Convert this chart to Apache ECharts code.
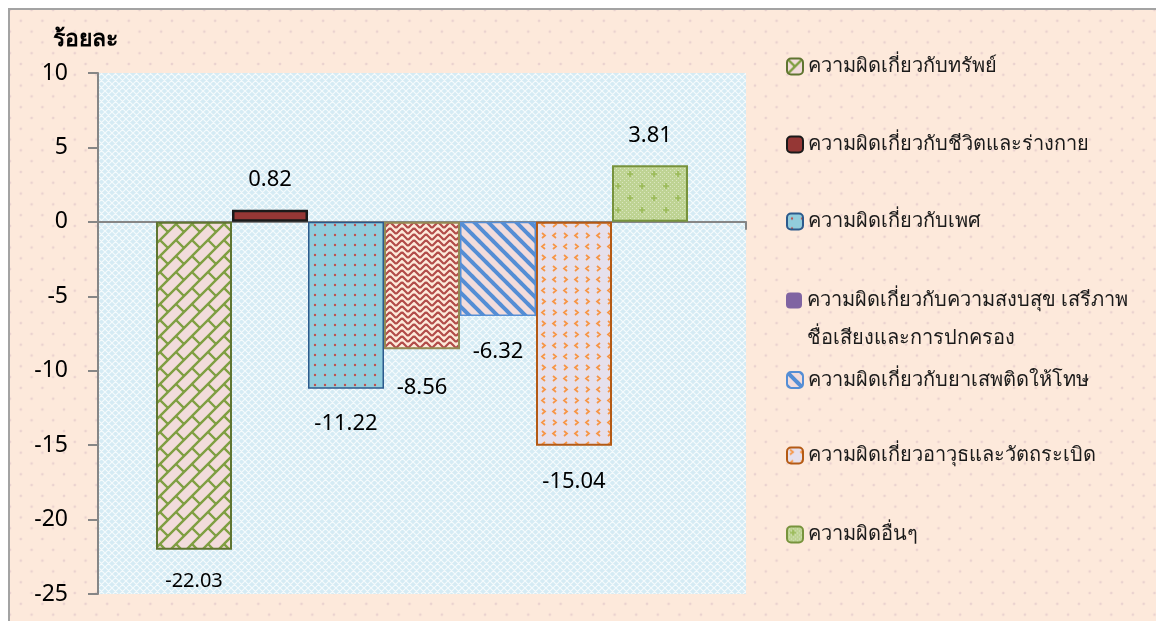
<!DOCTYPE html>
<html><head><meta charset="utf-8">
<script src="https://cdn.jsdelivr.net/npm/echarts@6/dist/echarts.min.js"></script>
<style>
html,body{margin:0;padding:0;width:1156px;height:621px;overflow:hidden;background:#fff;}
#frame{position:absolute;left:8px;top:8px;width:1170px;height:630px;border:2px solid #a3a3a3;background-color:#fde9db;
background-image:radial-gradient(circle, #ead2cf 1px, transparent 1.7px), radial-gradient(circle,#ead2cf 1px, transparent 1.7px);
background-size:21.6px 21.6px; background-position:0 0, 10.8px 10.8px;}
#chart{position:absolute;left:0;top:0;width:1156px;height:621px;}
</style></head>
<body><div id="frame"></div><div id="chart"></div>
<script>
// ---- data ----
const seriesNames = [
  'ความผิดเกี่ยวกับทรัพย์',
  'ความผิดเกี่ยวกับชีวิตและร่างกาย',
  'ความผิดเกี่ยวกับเพศ',
  'ความผิดเกี่ยวกับความสงบสุข เสรีภาพ\nชื่อเสียงและการปกครอง',
  'ความผิดเกี่ยวกับยาเสพติดให้โทษ',
  'ความผิดเกี่ยวอาวุธและวัตถระเบิด',
  'ความผิดอื่นๆ'
];
const values = [-22.03, 0.82, -11.22, -8.56, -6.32, -15.04, 3.81];
const yMin = -25, yMax = 10, yStep = 5;
const yTitle = 'ร้อยละ';

const FONT = '"Noto Sans", "DejaVu Sans", sans-serif';

// ---- pattern helpers ----
function tile(w, h, bg, draw) {
  const c = document.createElement('canvas');
  c.width = w; c.height = h;
  const g = c.getContext('2d');
  g.fillStyle = bg; g.fillRect(0, 0, w, h);
  draw(g, w, h);
  return { image: c, repeat: 'repeat' };
}
function wrapLines(g, w, h, segs) {
  g.beginPath();
  for (const dx of [-w, 0, w]) for (const dy of [-h, 0, h]) {
    for (const s of segs) {
      g.moveTo(s[0] + dx, s[1] + dy);
      for (let i = 2; i < s.length; i += 2) g.lineTo(s[i] + dx, s[i + 1] + dy);
    }
  }
  g.stroke();
}
function wrapDots(g, w, h, pts, r) {
  for (const dx of [-w, 0, w]) for (const dy of [-h, 0, h]) for (const p of pts) {
    g.beginPath(); g.arc(p[0] + dx, p[1] + dy, r, 0, Math.PI * 2); g.fill();
  }
}

const patBrick = tile(32, 32, '#f2dcdb', (g, w, h) => {
  g.strokeStyle = '#7f9f42'; g.lineWidth = 2.4;
  const segs = [];
  for (const c of [0, 16]) segs.push([c + 6, -6, c - 38, 38]);
  segs.push([0, 0, 8, 8], [16, -16, 24, -8], [16, 0, 24, 8], [0, 16, 8, 24]);
  wrapLines(g, w, h, segs);
});
const patLife = tile(21, 21, '#953735', (g, w, h) => {
  g.fillStyle = '#d9a3a2'; wrapDots(g, w, h, [[10, 17]], 1.3);
});
const patSex = tile(10, 10, '#92cddc', (g, w, h) => {
  g.fillStyle = '#c0504d'; wrapDots(g, w, h, [[5, 5]], 1.2);
});
const patWeave = tile(12, 12, '#fdeada', (g, w, h) => {
  g.strokeStyle = '#b24c49'; g.lineWidth = 2.2;
  wrapLines(g, w, h, [[0, 6, 6, 0], [0, 12, 6, 6], [6, 0, 12, 6], [6, 6, 12, 12]]);
});
const patStripe = tile(14, 14, '#f2dcdb', (g, w, h) => {
  g.strokeStyle = '#558ed5'; g.lineWidth = 4;
  wrapLines(g, w, h, [[-4, -4, 18, 18]]);
});
const patChevron = tile(22, 22, '#e6e0ec', (g, w, h) => {
  g.strokeStyle = '#f79646'; g.lineWidth = 1.8;
  wrapLines(g, w, h, [
    [3, 2, 6, 4.5, 3, 7], [17, 2, 14, 4.5, 17, 7],
    [14, 13, 17, 15.5, 14, 18], [6, 13, 3, 15.5, 6, 18]
  ]);
});
const patCheck = tile(24, 24, '#bed393', (g, w, h) => {
  g.fillStyle = '#d9e6bf';
  for (let x = 0; x < w; x += 2) for (let y = 0; y < h; y += 2) if (((x + y) / 2) % 2 === 0) g.fillRect(x, y, 1, 1);
  g.strokeStyle = '#9bbb59'; g.lineWidth = 1.6;
  wrapLines(g, w, h, [[3, 6, 9, 6], [6, 3, 6, 9], [15, 18, 21, 18], [18, 15, 18, 21]]);
});
const patPlot = tile(7, 7, '#d5ebf4', (g, w, h) => {
  g.strokeStyle = 'rgba(255,255,255,0.75)'; g.lineWidth = 1.2;
  wrapLines(g, w, h, [[0, 0, 7, 7], [7, 0, 0, 7]]);
});

const fills = [patBrick, patLife, patSex, patWeave, patStripe, patChevron, patCheck];
const borders = ['#5f7530', '#1a1a1a', '#2c5a8c', '#948a54', '#558ed5', '#b45a14', '#77933c'];
const borderW = [2, 2.5, 1.5, 2, 1.5, 2, 2];
const labelSize = [20, 22, 22, 22, 22, 22, 22];
const labelDist = [22, 19, 24, 27, 25, 25, 18];
const legendCenters = [66.5, 144.5, 221.5, 300.5, 380, 455.5, 534.5];

const series = seriesNames.map((n, i) => ({
  name: n, type: 'bar', barWidth: 76, barGap: '0%',
  data: [values[i]],
  itemStyle: { color: fills[i], borderColor: borders[i], borderWidth: borderW[i] },
  label: {
    show: true, position: 'outside', distance: labelDist[i],
    fontSize: labelSize[i], color: '#000', fontFamily: FONT,
    formatter: p => p.value.toFixed(2)
  }
}));

const legends = seriesNames.map((n, i) => {
  const two = n.indexOf('\n') >= 0;
  return {
    orient: 'vertical', left: 786, padding: 0,
    top: two ? legendCenters[i] - 57 : legendCenters[i] - 11,
    itemWidth: 16, itemHeight: 16,
    data: i === 3 ? [{ name: n, itemStyle: { color: '#8064a2', borderWidth: 0 } }] : [n],
    formatter: two ? (name => '\n' + name) : undefined,
    textStyle: two
      ? { fontSize: 20, color: '#1a1a1a', fontFamily: FONT, lineHeight: 38 }
      : { fontSize: 20, color: '#1a1a1a', fontFamily: FONT, lineHeight: 22 },
    selectedMode: false
  };
});

const chart = echarts.init(document.getElementById('chart'), null, { renderer: 'canvas' });
chart.setOption({
  animation: false,
  backgroundColor: 'transparent',
  title: { text: yTitle, left: 48, top: 23, textStyle: { fontSize: 23, fontWeight: 'bold', color: '#000', fontFamily: FONT } },
  legend: legends,
  grid: { left: 98, right: 410, top: 73, bottom: 27, show: true, backgroundColor: patPlot, borderWidth: 0 },
  xAxis: {
    type: 'category', data: [''],
    axisLine: { lineStyle: { color: '#868686', width: 2 } },
    axisTick: { show: true, length: 8, lineStyle: { color: '#868686', width: 2 } },
    axisLabel: { show: false }
  },
  yAxis: {
    type: 'value', min: yMin, max: yMax, interval: yStep,
    axisLine: { show: true, lineStyle: { color: '#868686', width: 2 } },
    axisTick: { show: true, length: 10, lineStyle: { color: '#868686', width: 2 } },
    splitLine: { show: false },
    axisLabel: { fontSize: 23, color: '#000', margin: 30, fontFamily: FONT }
  },
  series: series
});
</script>
</body></html>
